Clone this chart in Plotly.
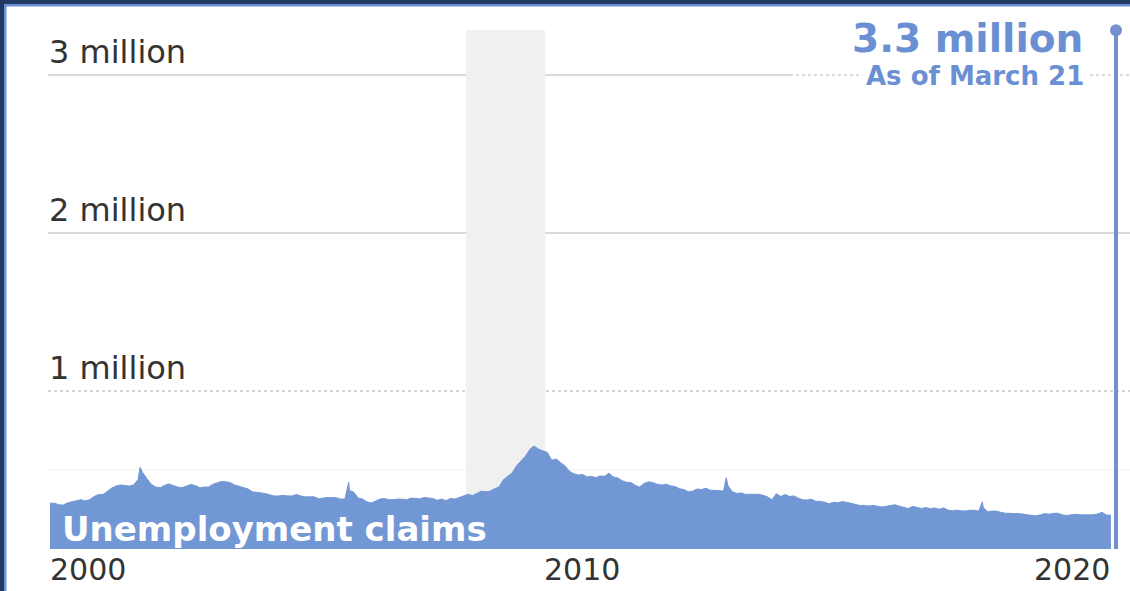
import pandas as pd
import plotly.graph_objects as go

# ---------------- data (weekly initial jobless claims, thousands, monthly reading) ----------------
months_start = "2000-01-15"
claims_k = [
    # 2000
    290, 290, 280, 278, 292, 298, 305, 312, 305, 312, 332, 345,
    # 2001
    345, 365, 385, 398, 405, 402, 398, 405, 440, 485, 445, 410,
    # 2002
    392, 388, 402, 412, 402, 392, 388, 398, 408, 402, 388, 392,
    # 2003
    392, 410, 420, 428, 425, 420, 405, 395, 390, 380, 362, 360,
    # 2004
    355, 350, 342, 335, 336, 340, 336, 336, 345, 335, 330, 328,
    # 2005
    330, 318, 322, 326, 326, 325, 316, 316, 370, 360, 322, 316,
    # 2006
    298, 292, 302, 316, 320, 312, 312, 316, 315, 312, 322, 320,
    # 2007
    318, 326, 322, 320, 308, 316, 306, 320, 316, 326, 336, 346,
    # 2008
    338, 352, 366, 362, 366, 382, 392, 438, 462, 482, 528, 560,
    # 2009
    588, 632, 652, 632, 620, 610, 562, 570, 546, 526, 492, 476,
    # 2010
    468, 472, 456, 460, 452, 462, 460, 480, 456, 450, 432, 422,
    # 2011
    420, 402, 392, 415, 425, 420, 410, 405, 410, 400, 395, 382,
    # 2012
    376, 362, 366, 380, 376, 385, 372, 372, 370, 366, 400, 362,
    # 2013
    352, 355, 346, 346, 350, 346, 340, 330, 312, 350, 332, 345,
    # 2014
    332, 336, 322, 312, 310, 315, 302, 302, 296, 286, 296, 292,
    # 2015
    300, 296, 290, 282, 276, 276, 272, 276, 270, 266, 270, 276,
    # 2016
    280, 270, 262, 256, 270, 265, 256, 262, 255, 260, 252, 260,
    # 2017
    246, 242, 246, 242, 240, 245, 245, 240, 262, 236, 240, 240,
    # 2018
    232, 226, 226, 226, 224, 222, 216, 212, 210, 216, 224, 220,
    # 2019
    226, 226, 216, 212, 216, 220, 216, 216, 215, 216, 222, 232,
    # 2020
    215, 214,
]
spike_dates = ["2001-09-29", "2001-10-06", "2005-09-10", "2012-11-03", "2017-09-09"]
spike_k = [517, 505, 423, 451, 298]

latest_date = "2020-03-21"
latest_value = 3283000

recession_start = "2007-12-01"
recession_end = "2009-06-01"

grid_values = [1_000_000, 2_000_000, 3_000_000]
grid_labels = ["1 million", "2 million", "3 million"]
year_ticks = ["2000-01-01", "2010-01-01", "2020-01-01"]
year_labels = ["2000", "2010", "2020"]

# ---------------- build series ----------------
dates = pd.date_range("2000-01-01", periods=len(claims_k), freq="MS") + pd.Timedelta(days=14)
df = pd.DataFrame({"date": dates, "v": [c * 1000 for c in claims_k]})
sp = pd.DataFrame({"date": pd.to_datetime(spike_dates), "v": [c * 1000 for c in spike_k]})
df = pd.concat([df, sp]).sort_values("date")

W, H = 1130, 591
AREA = "#7297d5"
SPIKE = "#7391cc"
NAVY = "#1f3864"
LIGHT = "#6d8fd3"

def px(x):
    return x / W

def py(y):
    return 1 - y / H

# axis scale: 2000-01-01 at pixel 48, 2020-03-21 at pixel 1116
t0 = pd.Timestamp("2000-01-01")
t1 = pd.Timestamp(latest_date)
days_per_px = (t1 - t0).days / (1116 - 48)
x_lo = t0 - pd.Timedelta(days=48 * days_per_px)
x_hi = t0 + pd.Timedelta(days=(W - 48) * days_per_px)
# y: 0 at pixel 549, 3M at pixel 75
ppm = (549 - 75) / 3.0
y_lo = -(H - 549) / ppm * 1e6
y_hi = 549 / ppm * 1e6

fig = go.Figure()
fig.add_trace(go.Scatter(
    x=df["date"], y=df["v"], mode="lines", fill="tozeroy",
    line=dict(color=AREA, width=1), fillcolor=AREA, hoverinfo="skip",
))
fig.add_trace(go.Scatter(
    x=[latest_date, latest_date], y=[0, latest_value], mode="lines",
    line=dict(color=SPIKE, width=4), hoverinfo="skip",
))
fig.add_trace(go.Scatter(
    x=[latest_date], y=[latest_value], mode="markers",
    marker=dict(size=12, color=SPIKE, opacity=1, line=dict(width=0)), hoverinfo="skip",
))

shapes = []
# recession shading
shapes.append(dict(type="rect", xref="x", yref="y", x0=recession_start, x1=recession_end,
                   y0=0, y1=latest_value, fillcolor="#f0f0f0", line=dict(width=0), layer="below"))
# gridlines
shapes.append(dict(type="line", xref="paper", yref="y", x0=px(48), x1=1, y0=500000, y1=500000,
                   line=dict(color="#f1f1f1", width=1), layer="below"))
for v in grid_values:
    if v == 1_000_000:
        shapes.append(dict(type="line", xref="paper", yref="y", x0=px(48), x1=1, y0=v, y1=v,
                           line=dict(color="#a8a8a8", width=1, dash="dot"), layer="below"))
    elif v == 3_000_000:
        shapes.append(dict(type="line", xref="paper", yref="y", x0=px(48), x1=px(790), y0=v, y1=v,
                           line=dict(color="#dadada", width=2), layer="below"))
        shapes.append(dict(type="line", xref="paper", yref="y", x0=px(790), x1=1, y0=v, y1=v,
                           line=dict(color="#b8b8b8", width=1, dash="dot"), layer="below"))
    else:
        shapes.append(dict(type="line", xref="paper", yref="y", x0=px(48), x1=1, y0=v, y1=v,
                           line=dict(color="#dadada", width=2), layer="below"))
# frame
shapes += [
    dict(type="rect", xref="paper", yref="paper", x0=0, x1=px(4), y0=0, y1=1,
         fillcolor=NAVY, line=dict(width=0)),
    dict(type="rect", xref="paper", yref="paper", x0=px(4), x1=px(6.5), y0=0, y1=py(4),
         fillcolor=LIGHT, line=dict(width=0)),
    dict(type="rect", xref="paper", yref="paper", x0=0, x1=1, y0=py(4), y1=1,
         fillcolor=NAVY, line=dict(width=0)),
    dict(type="rect", xref="paper", yref="paper", x0=px(4), x1=1, y0=py(6.5), y1=py(4),
         fillcolor=LIGHT, line=dict(width=0)),
]

ann = []
for v, lab in zip(grid_values, grid_labels):
    ann.append(dict(text=lab, xref="paper", yref="y", x=px(47), y=v, xanchor="left",
                    yanchor="bottom", yshift=2, showarrow=False,
                    font=dict(family="DejaVu Sans", size=32, color="#333333")))
anchors = ["left", "center", "right"]
shifts = [0, 6, 8]
for d, lab, a, s in zip(year_ticks, year_labels, anchors, shifts):
    ann.append(dict(text=lab, xref="x", yref="paper", x=d, y=py(569), xanchor=a, xshift=s,
                    yanchor="middle", showarrow=False,
                    font=dict(family="DejaVu Sans", size=30, color="#333333")))
ann.append(dict(text="Unemployment claims", xref="paper", yref="paper", x=px(60), y=py(529),
                xanchor="left", yanchor="middle", showarrow=False,
                font=dict(family="DejaVu Sans", size=34, color="white", weight="bold")))
ann.append(dict(text="3.3 million", xref="paper", yref="paper", x=px(1085), y=py(38),
                xanchor="right", yanchor="middle", showarrow=False,
                font=dict(family="DejaVu Sans", size=39, color="#6a8fd3", weight="bold")))
ann.append(dict(text="As of March 21", xref="paper", yref="paper", x=px(1088), y=py(76),
                xanchor="right", yanchor="middle", showarrow=False, bgcolor="white",
                borderpad=3,
                font=dict(family="DejaVu Sans", size=26, color="#6a8fd3", weight="bold")))

fig.update_layout(
    width=W, height=H, margin=dict(l=0, r=0, t=0, b=0),
    paper_bgcolor="white", plot_bgcolor="white", showlegend=False,
    xaxis=dict(type="date", range=[x_lo, x_hi], visible=False, fixedrange=True),
    yaxis=dict(range=[y_lo, y_hi], visible=False, fixedrange=True),
    shapes=shapes, annotations=ann,
)
fig.write_html("out.html")
